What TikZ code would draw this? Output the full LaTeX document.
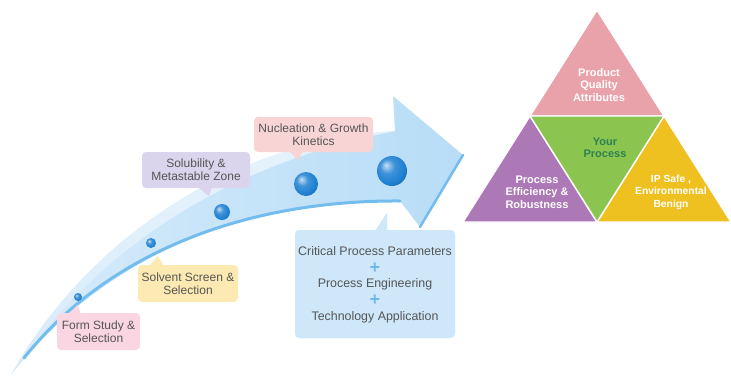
\documentclass[tikz,border=0pt]{standalone}
\usepackage{fontspec}
\setmainfont{Liberation Sans}
\usetikzlibrary{calc}
\definecolor{arrowlight}{RGB}{214,235,251}
\definecolor{arrowdark}{RGB}{184,221,247}
\definecolor{stripe}{RGB}{115,188,238}
\definecolor{ballblue}{RGB}{30,128,210}
\definecolor{txtgray}{RGB}{85,85,85}
\definecolor{pinkbox}{RGB}{250,214,226}
\definecolor{yellowbox}{RGB}{252,234,178}
\definecolor{lavbox}{RGB}{218,212,236}
\definecolor{salmonbox}{RGB}{249,212,212}
\definecolor{bluebox}{RGB}{206,231,249}
\definecolor{plusblue}{RGB}{110,185,235}
\definecolor{tripink}{RGB}{233,162,170}
\definecolor{trigreen}{RGB}{140,196,80}
\definecolor{tripurple}{RGB}{172,120,182}
\definecolor{triyellow}{RGB}{238,192,32}
\definecolor{yourgreen}{RGB}{45,130,80}
\pgfdeclareradialshading{myball}{\pgfpoint{-10bp}{10bp}}{color(0bp)=(ballblue!25!white); color(12bp)=(ballblue!85!white); color(26bp)=(ballblue); color(42bp)=(ballblue!65!black); color(60bp)=(ballblue!45!black)}
\tikzset{
  lbl/.style={rounded corners=4pt, align=center, font=\fontsize{12}{13}\selectfont, text=txtgray, inner sep=2pt},
  cpptext/.style={font=\fontsize{12.4}{13}\selectfont, text=txtgray, inner sep=1pt},
  trisec/.style={draw=white, line width=1.4pt, line join=round},
  tritext/.style={font=\bfseries\fontsize{11}{12.5}\selectfont, text=white, align=center},
  ballnode/.style={circle, inner sep=0pt, shading=myball},
  plussign/.style={font=\bfseries\fontsize{18}{18}\selectfont, text=plusblue, inner sep=0pt}
}
\begin{document}
\begin{tikzpicture}[x=1pt,y=-1pt]
\useasboundingbox (0,0) rectangle (731,378);
% curved arrow
\shade[left color=arrowlight, right color=arrowdark]
  (11,375) .. controls (75,258) and (215,142) .. (395,131)
  -- (393,96) -- (463,155) -- (420,227) -- (400,201)
  .. controls (250,200) and (110,250) .. (11,375) -- cycle;
\shade[top color=white, bottom color=arrowlight, opacity=0.6]
  (11,375) .. controls (75,258) and (215,142) .. (395,131)
  .. controls (250,160) and (110,230) .. (11,375) -- cycle;
\draw[stripe, line width=3pt, line cap=round] (400,201) .. controls (250,200) and (110,250) .. (24,358);
\draw[stripe, line width=2.5pt, line cap=round] (463,155) -- (420,227);
% balls
\node[ballnode, minimum size=8pt] (b1) at (78,297) {};
\node[ballnode, minimum size=10pt] (b2) at (151,243) {};
\node[ballnode, minimum size=16pt] (b3) at (222,212) {};
\node[ballnode, minimum size=24pt] (b4) at (306,184) {};
\node[ballnode, minimum size=30pt] (b5) at (392,171) {};
% label boxes
\node[lbl, fill=pinkbox, minimum width=83pt, minimum height=37pt] (form) at (98.5,331.5) {Form Study \&\\Selection};
\fill[pinkbox] (form.north west) ++(12,1) -- ++(12,0) -- ++(-3,-9) -- cycle;
\node[lbl, fill=yellowbox, minimum width=100pt, minimum height=37pt] (solv) at (188,283.5) {Solvent Screen \&\\Selection};
\fill[yellowbox] (solv.north west) ++(12,1) -- ++(14,0) -- ++(-6,-10) -- cycle;
\node[lbl, fill=lavbox, minimum width=108pt, minimum height=36pt] (solu) at (196,170) {Solubility \&\\Metastable Zone};
\fill[lavbox] (solu.south) ++(2,-1) -- ++(14,0) -- ++(-3,9) -- cycle;
\node[lbl, fill=salmonbox, minimum width=119pt, minimum height=35pt] (nucl) at (313.5,134.5) {Nucleation \& Growth\\Kinetics};
\fill[salmonbox] (nucl.south) ++(-24,-1) -- ++(14,0) -- ++(-6,9) -- cycle;
\node[lbl, fill=bluebox, minimum width=160pt, minimum height=108pt] (cpp) at (375,284) {};
\fill[bluebox] (cpp.north) ++(0,1) -- ++(12,0) -- ++(0,-18) -- cycle;
\node[cpptext] (cpp1) at (375,251) {Critical Process Parameters};
\node[plussign] (plus1) at (375,268) {+};
\node[cpptext] (cpp2) at (375,284) {Process Engineering};
\node[plussign] (plus2) at (375,300) {+};
\node[cpptext] (cpp3) at (375,317) {Technology Application};
% triangle
\coordinate (A) at (597,10);
\coordinate (BL) at (463,222);
\coordinate (BR) at (731,222);
\coordinate (ML) at (530,116);
\coordinate (MR) at (664,116);
\coordinate (MB) at (597,222);
\filldraw[trisec, fill=tripink] (A) -- (ML) -- (MR) -- cycle;
\filldraw[trisec, fill=tripurple] (ML) -- (BL) -- (MB) -- cycle;
\filldraw[trisec, fill=triyellow] (MR) -- (MB) -- (BR) -- cycle;
\filldraw[trisec, fill=trigreen] (ML) -- (MR) -- (MB) -- cycle;
\node[tritext] (pqa) at (599,85) {Product\\Quality\\Attributes};
\node[tritext, text=yourgreen] (your) at (605,148) {Your\\Process};
\node[tritext] (pe) at (537,192) {Process\\Efficiency \&\\Robustness};
\node[tritext, font=\bfseries\fontsize{10.3}{12.5}\selectfont] (ip) at (671,192) {IP Safe ,\\Environmental\\Benign};
\end{tikzpicture}
\end{document}
